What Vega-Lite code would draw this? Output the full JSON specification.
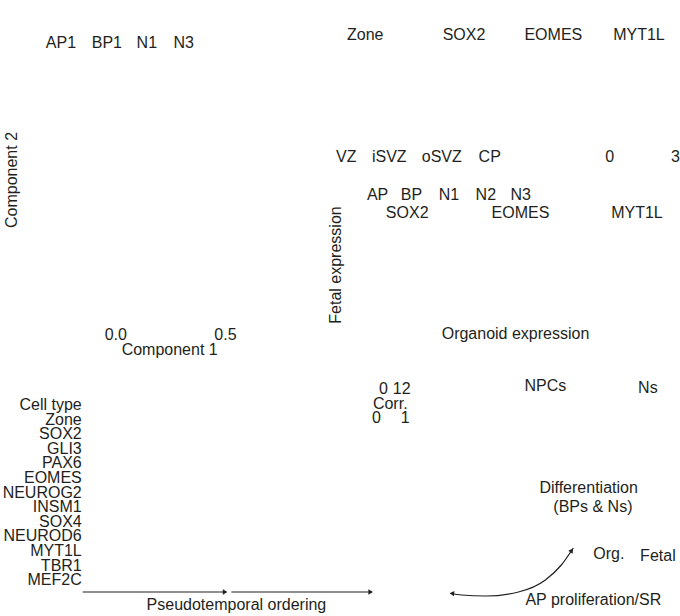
{
  "$schema": "https://vega.github.io/schema/vega-lite/v6.json",
  "width": 680,
  "height": 616,
  "autosize": {"type": "fit", "contains": "padding"},
  "padding": 0,
  "background": "white",
  "config": {
    "view": {"stroke": null},
    "text": {"font": "Liberation Sans", "fontSize": 16, "fill": "#231f20"}
  },
  "datasets": {
    "labels": [
      {"label": "AP1", "x": 46, "y": 43},
      {"label": "BP1", "x": 92, "y": 43},
      {"label": "N1", "x": 137, "y": 43},
      {"label": "N3", "x": 174, "y": 43},
      {"label": "Zone", "x": 348, "y": 35},
      {"label": "SOX2", "x": 444, "y": 35},
      {"label": "EOMES", "x": 526, "y": 35},
      {"label": "MYT1L", "x": 615, "y": 35},
      {"label": "VZ", "x": 337, "y": 157},
      {"label": "iSVZ", "x": 373, "y": 157},
      {"label": "oSVZ", "x": 423, "y": 157},
      {"label": "CP", "x": 480, "y": 157},
      {"label": "0", "x": 607, "y": 157},
      {"label": "3", "x": 673, "y": 157},
      {"label": "AP", "x": 368, "y": 195},
      {"label": "BP", "x": 402, "y": 195},
      {"label": "N1", "x": 440, "y": 195},
      {"label": "N2", "x": 477, "y": 195},
      {"label": "N3", "x": 512, "y": 195},
      {"label": "SOX2", "x": 387, "y": 213},
      {"label": "EOMES", "x": 493, "y": 213},
      {"label": "MYT1L", "x": 613, "y": 213},
      {"label": "0.0", "x": 105, "y": 335},
      {"label": "0.5", "x": 215, "y": 335},
      {"label": "Component 1", "x": 122, "y": 350},
      {"label": "Organoid expression", "x": 443, "y": 334},
      {"label": "NPCs", "x": 526, "y": 386},
      {"label": "Ns", "x": 640, "y": 388},
      {"label": "0", "x": 380, "y": 389},
      {"label": "12", "x": 394, "y": 389},
      {"label": "Corr.", "x": 374, "y": 404},
      {"label": "0", "x": 373, "y": 418},
      {"label": "1", "x": 402, "y": 418},
      {"label": "Differentiation", "x": 541, "y": 488},
      {"label": "(BPs & Ns)", "x": 555, "y": 507},
      {"label": "Org.", "x": 595, "y": 554},
      {"label": "Fetal", "x": 642, "y": 556},
      {"label": "AP proliferation/SR", "x": 527, "y": 600},
      {"label": "Pseudotemporal ordering", "x": 147, "y": 605}
    ],
    "rows": [
      {"label": "Cell type", "x": 82, "y": 405},
      {"label": "Zone", "x": 82, "y": 419.6},
      {"label": "SOX2", "x": 82, "y": 434.2},
      {"label": "GLI3", "x": 82, "y": 448.8},
      {"label": "PAX6", "x": 82, "y": 463.4},
      {"label": "EOMES", "x": 82, "y": 478},
      {"label": "NEUROG2", "x": 82, "y": 492.6},
      {"label": "INSM1", "x": 82, "y": 507.2},
      {"label": "SOX4", "x": 82, "y": 521.8},
      {"label": "NEUROD6", "x": 82, "y": 536.4},
      {"label": "MYT1L", "x": 82, "y": 551},
      {"label": "TBR1", "x": 82, "y": 565.6},
      {"label": "MEF2C", "x": 82, "y": 580.2}
    ],
    "vlabels": [
      {"label": "Component 2", "x": 12, "y": 180},
      {"label": "Fetal expression", "x": 337, "y": 265}
    ],
    "arrows": [
      {"x": 83, "x2": 224, "y": 592},
      {"x": 232, "x2": 370, "y": 592}
    ],
    "heads": [
      {"x": 225, "y": 592, "dir": 90},
      {"x": 371, "y": 592, "dir": 90},
      {"x": 454, "y": 593.5, "dir": 275},
      {"x": 573, "y": 551, "dir": 35}
    ],
    "curve": [
      {"i": 0, "x": 452, "y": 593.5},
      {"i": 1, "x": 463, "y": 595},
      {"i": 2, "x": 487, "y": 596},
      {"i": 3, "x": 520, "y": 592},
      {"i": 4, "x": 547, "y": 580},
      {"i": 5, "x": 563, "y": 565},
      {"i": 6, "x": 575, "y": 548}
    ]
  },
  "layer": [
    {
      "data": {"name": "labels"},
      "mark": {"type": "text", "align": "left", "baseline": "middle"},
      "encoding": {
        "x": {"field": "x", "type": "quantitative", "scale": {"domain": [0, 680], "nice": false, "zero": false}, "axis": null},
        "y": {"field": "y", "type": "quantitative", "scale": {"domain": [0, 616], "nice": false, "zero": false, "reverse": true}, "axis": null},
        "text": {"field": "label"}
      }
    },
    {
      "data": {"name": "rows"},
      "mark": {"type": "text", "align": "right", "baseline": "middle"},
      "encoding": {
        "x": {"field": "x", "type": "quantitative"},
        "y": {"field": "y", "type": "quantitative"},
        "text": {"field": "label"}
      }
    },
    {
      "data": {"name": "vlabels"},
      "mark": {"type": "text", "align": "center", "baseline": "middle", "angle": 270},
      "encoding": {
        "x": {"field": "x", "type": "quantitative"},
        "y": {"field": "y", "type": "quantitative"},
        "text": {"field": "label"}
      }
    },
    {
      "data": {"name": "arrows"},
      "mark": {"type": "rule", "color": "#231f20", "strokeWidth": 1.2},
      "encoding": {
        "x": {"field": "x", "type": "quantitative"},
        "x2": {"field": "x2"},
        "y": {"field": "y", "type": "quantitative"}
      }
    },
    {
      "data": {"name": "curve"},
      "mark": {"type": "line", "color": "#231f20", "strokeWidth": 1.2, "interpolate": "monotone"},
      "encoding": {
        "x": {"field": "x", "type": "quantitative"},
        "y": {"field": "y", "type": "quantitative"},
        "order": {"field": "i", "type": "quantitative"}
      }
    },
    {
      "data": {"name": "heads"},
      "mark": {"type": "point", "shape": "triangle", "filled": true, "color": "#231f20", "size": 28, "opacity": 1},
      "encoding": {
        "x": {"field": "x", "type": "quantitative"},
        "y": {"field": "y", "type": "quantitative"},
        "angle": {"field": "dir", "type": "quantitative", "scale": null}
      }
    }
  ]
}
